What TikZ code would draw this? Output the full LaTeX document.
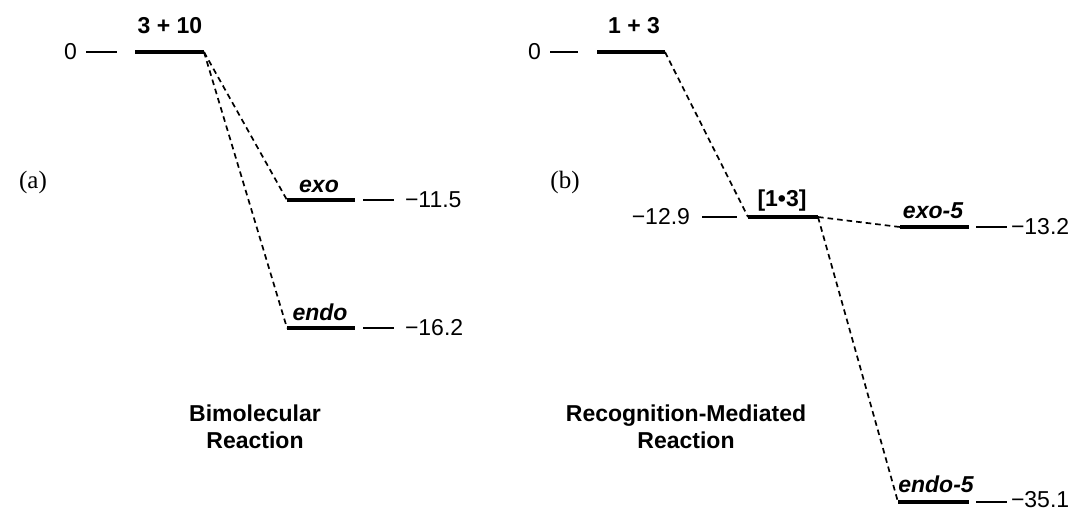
\documentclass[tikz,border=0pt]{standalone}
\usepackage{fontspec}
\setmainfont{Liberation Sans}
\newfontfamily\serifa{Liberation Serif}
\begin{document}
\begin{tikzpicture}[x=0.5pt,y=-0.5pt,
  every node/.style={inner sep=0pt, outer sep=0pt},
  lev/.style={line width=2.2pt},
  tck/.style={line width=0.6pt},
  conn/.style={line width=0.85pt, dash pattern=on 2.8pt off 2pt},
  lab/.style={anchor=base, font=\fontsize{11.5}{13.5}\selectfont\bfseries},
  ilab/.style={anchor=base, font=\fontsize{11.5}{13.5}\selectfont\bfseries\itshape},
  val/.style={font=\fontsize{11.5}{13.5}\selectfont},
  ttl/.style={align=center, font=\fontsize{11.5}{13.5}\selectfont\bfseries},
  pan/.style={font=\fontsize{12.5}{14}\selectfont\serifa}]
\useasboundingbox (0,0) rectangle (1079,511);

% ---------- panel (a) ----------
\coordinate (aL) at (135,52);  \coordinate (aR) at (204,52);
\coordinate (exL) at (287,200); \coordinate (exR) at (355,200);
\coordinate (enL) at (287,328); \coordinate (enR) at (355,328);
\draw[lev] (aL) -- (aR);
\draw[lev] (exL) -- (exR);
\draw[lev] (enL) -- (enR);
\draw[conn] (aR) -- (exL);
\draw[conn] (aR) -- (enL);

\node[lab] (la) at (170,33) {3 + 10};
\node[ilab] (lexo) at (319,192) {exo};
\node[ilab] (lendo) at (320,320) {endo};

\coordinate (ta1) at (86,52);  \coordinate (ta2) at (117,52);
\draw[tck] (ta1) -- (ta2);
\node[val, anchor=east] (za) at (77,52) {0};
\coordinate (tb1) at (363,200); \coordinate (tb2) at (394,200);
\draw[tck] (tb1) -- (tb2);
\node[val, anchor=west] (vexo) at (405,200) {−11.5};
\coordinate (tc1) at (363,328); \coordinate (tc2) at (394,328);
\draw[tck] (tc1) -- (tc2);
\node[val, anchor=west] (vendo) at (405,328) {−16.2};

\node[pan] (pa) at (33,182) {(a)};
\node[ttl] (tta) at (255,427) {Bimolecular\\Reaction};

% ---------- panel (b) ----------
\coordinate (bL) at (597,52);  \coordinate (bR) at (665,52);
\coordinate (cL) at (748,217); \coordinate (cR) at (818,217);
\coordinate (xL) at (900,227); \coordinate (xR) at (969,227);
\coordinate (nL) at (898,502); \coordinate (nR) at (969,502);
\draw[lev] (bL) -- (bR);
\draw[lev] (cL) -- (cR);
\draw[lev] (xL) -- (xR);
\draw[lev] (nL) -- (nR);
\draw[conn] (bR) -- (cL);
\draw[conn] (cR) -- (xL);
\draw[conn] (cR) -- (nL);

\node[lab] (lb) at (634,33) {1 + 3};
\node[lab] (lc) at (782,206) {[1•3]};
\node[ilab] (lx) at (933,218) {exo-5};
\node[ilab] (ln) at (936,492) {endo-5};

\coordinate (td1) at (550,52);  \coordinate (td2) at (578,52);
\draw[tck] (td1) -- (td2);
\node[val, anchor=east] (zb) at (541,52) {0};
\coordinate (te1) at (702,217); \coordinate (te2) at (737,217);
\draw[tck] (te1) -- (te2);
\node[val, anchor=east] (vc) at (690,217) {−12.9};
\coordinate (tf1) at (976,227); \coordinate (tf2) at (1007,227);
\draw[tck] (tf1) -- (tf2);
\node[val, anchor=west] (vx) at (1011,227) {−13.2};
\coordinate (tg1) at (976,502); \coordinate (tg2) at (1007,502);
\draw[tck] (tg1) -- (tg2);
\node[val, anchor=west] (vn) at (1011,500) {−35.1};

\node[pan] (pb) at (565,182) {(b)};
\node[ttl] (ttb) at (686,427) {Recognition-Mediated\\Reaction};
\end{tikzpicture}
\end{document}
